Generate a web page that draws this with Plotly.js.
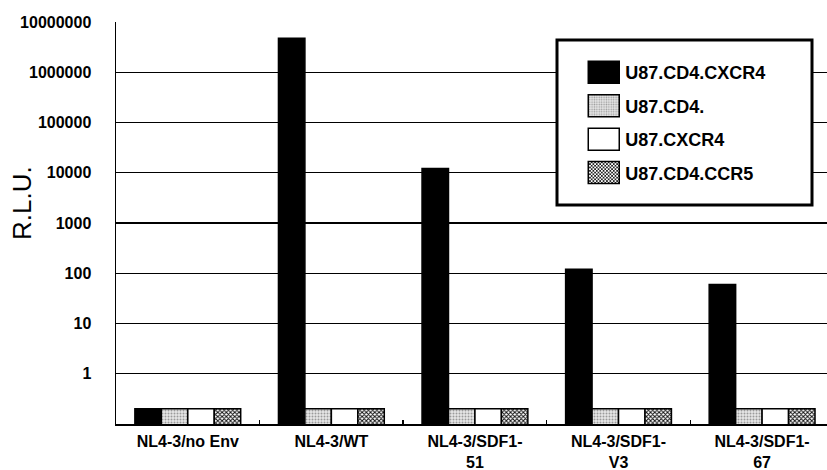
<!DOCTYPE html>
<html>
<head>
<meta charset="utf-8">
<script src="https://cdn.plot.ly/plotly-3.0.1.min.js"></script>
<style>html,body{margin:0;padding:0;background:#fff;}#chart{width:827px;height:470px;}</style>
</head>
<body>
<div id="chart"></div>
<script>
const categories = ["NL4-3/no Env", "NL4-3/WT", "NL4-3/SDF1-<br>51", "NL4-3/SDF1-<br>V3", "NL4-3/SDF1-<br>67"];
const seriesNames = ["U87.CD4.CXCR4", "U87.CD4.", "U87.CXCR4", "U87.CD4.CCR5"];
const cd4cxcr4 = [0.2, 4750000, 12200, 120, 60];
const cd4 = [0.2, 0.2, 0.2, 0.2, 0.2];
const cxcr4 = [0.2, 0.2, 0.2, 0.2, 0.2];
const cd4ccr5 = [0.2, 0.2, 0.2, 0.2, 0.2];
const yTickVals = [1, 10, 100, 1000, 10000, 100000, 1000000, 10000000];
const yTickText = ["1", "10", "100", "1000", "10000", "100000", "1000000", "10000000"];
const yTitle = "R.L.U.";

const line = {color: "#000", width: 1.5};
const traces = [
  {name: seriesNames[0], y: cd4cxcr4, marker: {color: "#000", line: line}},
  {name: seriesNames[1], y: cd4, marker: {color: "#e6e6e6", line: line,
     pattern: {shape: ".", fgcolor: "#9a9a9a", bgcolor: "#e8e8e8", size: 3, solidity: 0.35}}},
  {name: seriesNames[2], y: cxcr4, marker: {color: "#fff", line: line}},
  {name: seriesNames[3], y: cd4ccr5, marker: {color: "#888", line: line,
     pattern: {shape: "x", fgcolor: "#111", bgcolor: "#fff", size: 3, solidity: 0.55}}}
].map((t, i) => Object.assign({type: "bar", x: categories, legendgroup: "g" + i}, t));

const layout = {
  width: 827, height: 470,
  margin: {l: 116, r: 0, t: 22, b: 46},
  paper_bgcolor: "#fff", plot_bgcolor: "#fff",
  font: {family: "Liberation Sans, Arial, sans-serif", color: "#000"},
  barmode: "group", bargap: 0.263, bargroupgap: 0,
  showlegend: true,
  legend: {x: 0.66, y: 0.92, xanchor: "left", yanchor: "top", bgcolor: "rgba(0,0,0,0)",
    borderwidth: 0, traceorder: "grouped", tracegroupgap: 7,
    font: {size: 18, weight: "bold", family: "Liberation Sans, Arial, sans-serif"}},
  xaxis: {type: "category", range: [-0.5, 4.452], showgrid: false, showline: true,
    linecolor: "#000", linewidth: 1.5, ticks: "inside", tickson: "boundaries", ticklen: 4,
    tickwidth: 1.5, tickcolor: "#000", ticklabelstandoff: 2,
    tickfont: {size: 16, weight: "bold"}},
  yaxis: {type: "log", range: [-1, 7], tickvals: yTickVals, ticktext: yTickText,
    showgrid: true, gridcolor: "#000", gridwidth: 1.2, showline: true, linecolor: "#000",
    linewidth: 1.5, ticks: "outside", ticklen: 20, tickcolor: "rgba(0,0,0,0)",
    tickfont: {size: 16, weight: "bold"}, zeroline: false},
  annotations: [{text: yTitle, xref: "paper", yref: "paper", x: (22 - 116) / 711, y: (424 - 203) / 402,
    xanchor: "center", yanchor: "middle", textangle: -90, showarrow: false, font: {size: 26}}],
  shapes: [{type: "rect", xref: "paper", yref: "paper", x0: (557 - 116) / 711, x1: (812 - 116) / 711,
    y0: (424 - 205) / 402, y1: (424 - 40) / 402, fillcolor: "#fff", line: {color: "#000", width: 3}, layer: "above"}]
};

Plotly.newPlot("chart", traces, layout, {staticPlot: true}).then(function () {
  document.querySelectorAll(".legend path.legendbar, .legend .legendpoints path").forEach(function (p) {
    p.setAttribute("d", "M14,11H-17V-11H14Z");
  });
});
</script>
</body>
</html>
